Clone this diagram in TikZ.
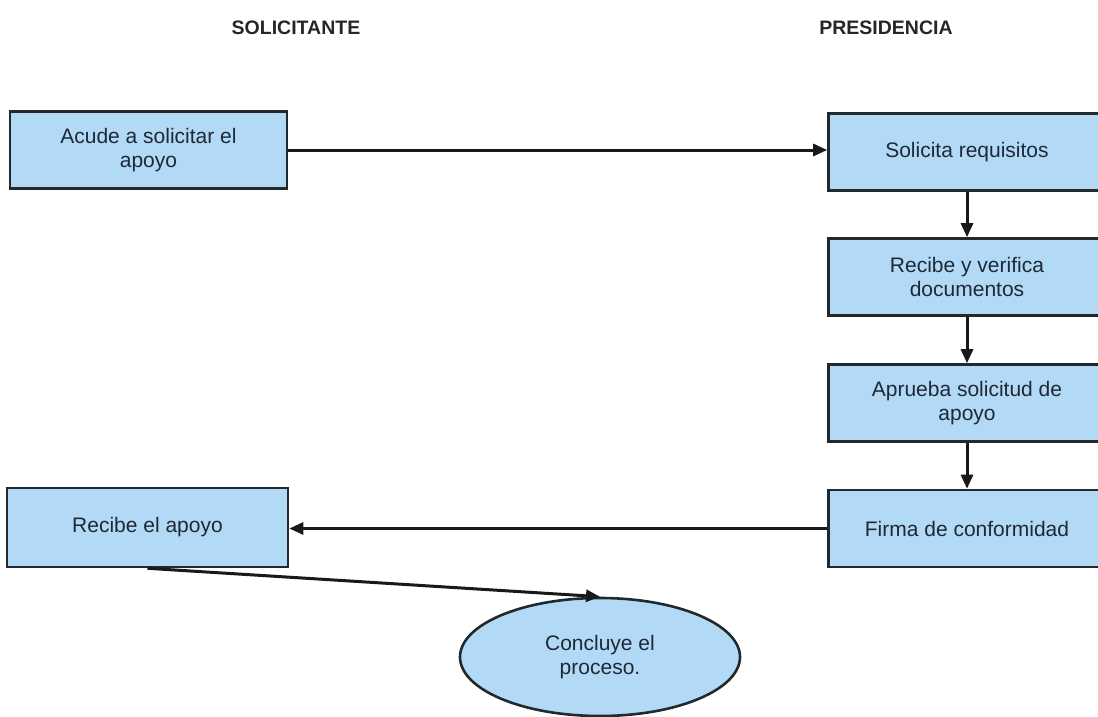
\documentclass[tikz,border=0pt]{standalone}
\usepackage{fontspec}
\setmainfont{Liberation Sans}
\usetikzlibrary{shapes.geometric,arrows.meta}
\definecolor{boxfill}{RGB}{178,218,246}
\definecolor{boxline}{RGB}{35,40,45}
\definecolor{txt}{RGB}{30,40,55}
\begin{document}
\begin{tikzpicture}[x=1pt,y=-1pt,
  stepbox/.style={draw=boxline,fill=boxfill,line width=2.6pt,rectangle,minimum width=277pt,minimum height=77pt,align=center,text=txt,font=\fontsize{21}{24}\selectfont,inner sep=0pt},
  endnode/.style={draw=boxline,fill=boxfill,line width=2.6pt,ellipse,minimum width=280pt,minimum height=118pt,align=center,text=txt,font=\fontsize{21}{24}\selectfont,inner sep=0pt},
  title/.style={font=\bfseries\fontsize{19.5}{22}\selectfont,text=black!85},
  conn/.style={line width=3pt,draw=black!90,-{Triangle[length=14pt,width=12pt]}}]
\useasboundingbox (0,0) rectangle (1098,717);
\begin{scope}
\clip (0,0) rectangle (1098,717);
\node[title] (t1) at (296,28) {SOLICITANTE};
\node[title] (t2) at (886,28) {PRESIDENCIA};
\node[stepbox] (a) at (148.5,150) {Acude a solicitar el\\apoyo};
\node[stepbox] (b) at (967,152) {Solicita requisitos};
\node[stepbox] (c) at (967,277) {Recibe y verifica\\documentos};
\node[stepbox] (d) at (967,403) {Aprueba solicitud de\\apoyo};
\node[stepbox] (e) at (967,528.5) {Firma de conformidad};
\node[stepbox,minimum width=281pt,minimum height=79pt] (f) at (147.5,527.5) {Recibe el apoyo};
\node[endnode] (g) at (600,657) {Concluye el\\proceso.};
\draw[conn] (a.east) -- (b.west |- a.east);
\draw[conn] (b) -- (c);
\draw[conn] (c) -- (d);
\draw[conn] (d) -- (e);
\draw[conn] (e.west) -- (f.east |- e.west);
\draw[conn] (f.south) -- (g.north);
\end{scope}
\end{tikzpicture}
\end{document}
